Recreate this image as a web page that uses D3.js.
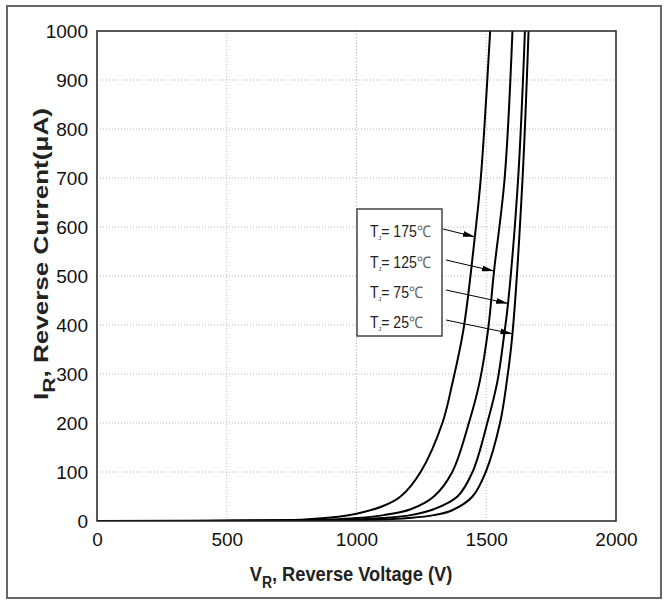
<!DOCTYPE html>
<html>
<head>
<meta charset="utf-8">
<script src="https://cdn.jsdelivr.net/npm/d3@7"></script>
<style>
  body { margin: 0; background: #fff; }
  text { font-family: "Liberation Sans", Arial, sans-serif; }
</style>
</head>
<body>
<svg id="chart" width="664" height="603"></svg>
<script>

const temps = ["175", "125", "75", "25"]

const v175 = [0, 600, 800, 900, 1000, 1100, 1170, 1247, 1331, 1369, 1412, 1456, 1479, 1515]
const i175 = [0, 1, 3, 7, 15, 30, 50, 100, 200, 280, 390, 580, 700, 1000]

const v125 = [0, 700, 900, 1000, 1105, 1209, 1298, 1369, 1433, 1475, 1507, 1530, 1571, 1601]
const i125 = [0, 1, 3, 6, 12, 24, 50, 100, 200, 285, 390, 510, 700, 1000]

const v75 = [0, 800, 1000, 1100, 1209, 1298, 1389, 1447, 1504, 1543, 1569, 1584, 1623, 1649]
const i75 = [0, 1, 3, 6, 12, 24, 50, 100, 200, 285, 380, 444, 700, 1000]

const v25 = [0, 900, 1100, 1200, 1298, 1369, 1447, 1498, 1553, 1580, 1601, 1640, 1663]
const i25 = [0, 1, 3, 6, 12, 22, 50, 100, 200, 288, 382, 700, 1000]

// where the label arrows land on each curve
const arrowV = [1456, 1530, 1584, 1601]
const arrowI = [580, 510, 444, 382]

const xTicks = [0, 500, 1000, 1500, 2000]
const yTicks = [0, 100, 200, 300, 400, 500, 600, 700, 800, 900, 1000]


const plotLeft = 97, plotRight = 616, plotTop = 31, plotBottom = 521

var svg = d3.select("#chart")

// outer frame
svg.append("rect")
   .attr("x", 7).attr("y", 6)
   .attr("width", 654).attr("height", 592)
   .attr("fill", "none")
   .attr("stroke", "#666")
   .attr("stroke-width", 2)

var x = d3.scaleLinear().domain([0, 2000]).range([plotLeft, plotRight])
var y = d3.scaleLinear().domain([0, 1000]).range([plotBottom, plotTop])

// dotted grid
svg.append("g")
   .selectAll("line")
   .data( xTicks.slice(1, -1) )
   .join("line")
   .attr("x1", d => x(d)).attr("x2", d => x(d))
   .attr("y1", plotTop).attr("y2", plotBottom)
   .attr("stroke", "#b5b5b5")
   .attr("stroke-dasharray", "1,2")

svg.append("g")
   .selectAll("line")
   .data( yTicks.slice(1, -1) )
   .join("line")
   .attr("x1", plotLeft).attr("x2", plotRight)
   .attr("y1", d => y(d)).attr("y2", d => y(d))
   .attr("stroke", "#b5b5b5")
   .attr("stroke-dasharray", "1,2")

// axes, labels only
var xAxis = svg.append("g")
   .attr("transform", "translate(0," + plotBottom + ")")
   .call( d3.axisBottom(x).tickValues(xTicks).tickFormat(d3.format("d")).tickSize(0).tickPadding(12) )
xAxis.select(".domain").remove()
xAxis.selectAll("text")
     .attr("font-size", 19)
     .attr("fill", "#111")
     .style("font-family", "Liberation Sans, Arial, sans-serif")

var yAxis = svg.append("g")
   .attr("transform", "translate(" + plotLeft + ",0)")
   .call( d3.axisLeft(y).tickValues(yTicks).tickFormat(d3.format("d")).tickSize(0).tickPadding(9) )
yAxis.select(".domain").remove()
yAxis.selectAll("text")
     .attr("font-size", 19)
     .attr("fill", "#111")
     .style("font-family", "Liberation Sans, Arial, sans-serif")

// curves
svg.append("clipPath").attr("id", "plotClip")
   .append("rect")
   .attr("x", plotLeft).attr("y", plotTop)
   .attr("width", plotRight - plotLeft).attr("height", plotBottom - plotTop)

var series = [ [v175, i175], [v125, i125], [v75, i75], [v25, i25] ]

var line = d3.line()
             .x( d => x(d[0]) )
             .y( d => y(d[1]) )
             .curve( d3.curveCatmullRom.alpha(0.5) )

svg.append("g")
   .attr("clip-path", "url(#plotClip)")
   .selectAll("path")
   .data( series )
   .join("path")
   .attr("d", s => line( d3.zip(s[0], s[1]) ))
   .attr("fill", "none")
   .attr("stroke", "#000")
   .attr("stroke-width", 2)

// plot border
svg.append("rect")
   .attr("x", plotLeft).attr("y", plotTop)
   .attr("width", plotRight - plotLeft).attr("height", plotBottom - plotTop)
   .attr("fill", "none")
   .attr("stroke", "#222")
   .attr("stroke-width", 1.5)

// legend box with arrows
svg.append("rect")
   .attr("x", 357).attr("y", 209)
   .attr("width", 85).attr("height", 127)
   .attr("fill", "#fff")
   .attr("stroke", "#444")
   .attr("stroke-width", 1.5)

svg.append("defs").append("marker")
   .attr("id", "head")
   .attr("viewBox", "0 0 12 6")
   .attr("refX", 12).attr("refY", 3)
   .attr("markerWidth", 12).attr("markerHeight", 6)
   .attr("markerUnits", "userSpaceOnUse")
   .attr("orient", "auto")
   .append("path")
   .attr("d", "M0,0 L12,3 L0,6 Z")
   .attr("fill", "#000")

const rowY = [237, 268, 298, 328]

var labels = svg.append("g")
                .selectAll("text")
                .data( temps )
                .join("text")
                .attr("transform", (d, i) => "translate(370," + rowY[i] + ") scale(0.88,1)")
                .attr("font-size", 16)
                .attr("fill", "#222")

labels.append("tspan").text("T")
labels.append("tspan").text("J").attr("font-size", 6).attr("dy", 3)
labels.append("tspan").text( d => "= " + d ).attr("dy", -3)
labels.append("tspan").text("\u2103").attr("font-weight", 300).attr("fill", "#666")

svg.append("g")
   .selectAll("line")
   .data( temps )
   .join("line")
   .attr("x1", (d, i) => i == 0 ? 443 : 446)
   .attr("y1", (d, i) => rowY[i] - 8)
   .attr("x2", (d, i) => x(arrowV[i]))
   .attr("y2", (d, i) => y(arrowI[i]))
   .attr("stroke", "#000")
   .attr("stroke-width", 1)
   .attr("marker-end", "url(#head)")

// axis titles
var xTitle = svg.append("text")
   .attr("transform", "translate(351,581) scale(0.87,1)")
   .attr("text-anchor", "middle")
   .attr("font-size", 21)
   .attr("font-weight", "bold")
   .attr("fill", "#222")
xTitle.append("tspan").text("V")
xTitle.append("tspan").text("R").attr("font-size", 16).attr("dy", 7)
xTitle.append("tspan").text(", Reverse Voltage (V)").attr("dy", -7)

var yTitleG = svg.append("g")
var yTitle = yTitleG.append("text")
   .attr("text-anchor", "middle")
   .attr("font-size", 20)
   .attr("font-weight", "bold")
   .attr("fill", "#222")
yTitle.append("tspan").text("I")
yTitle.append("tspan").text("R").attr("font-size", 16).attr("dy", 7)
yTitle.append("tspan").text(", Reverse Current(\u03bcA)").attr("dy", -7)

// stretch the vertical title to the length it has in the picture
let stretch = 292 / yTitle.node().getBBox().width
yTitleG.attr("transform", "translate(48,254) rotate(-90) scale(" + stretch + ",1)")

</script>
</body>
</html>
